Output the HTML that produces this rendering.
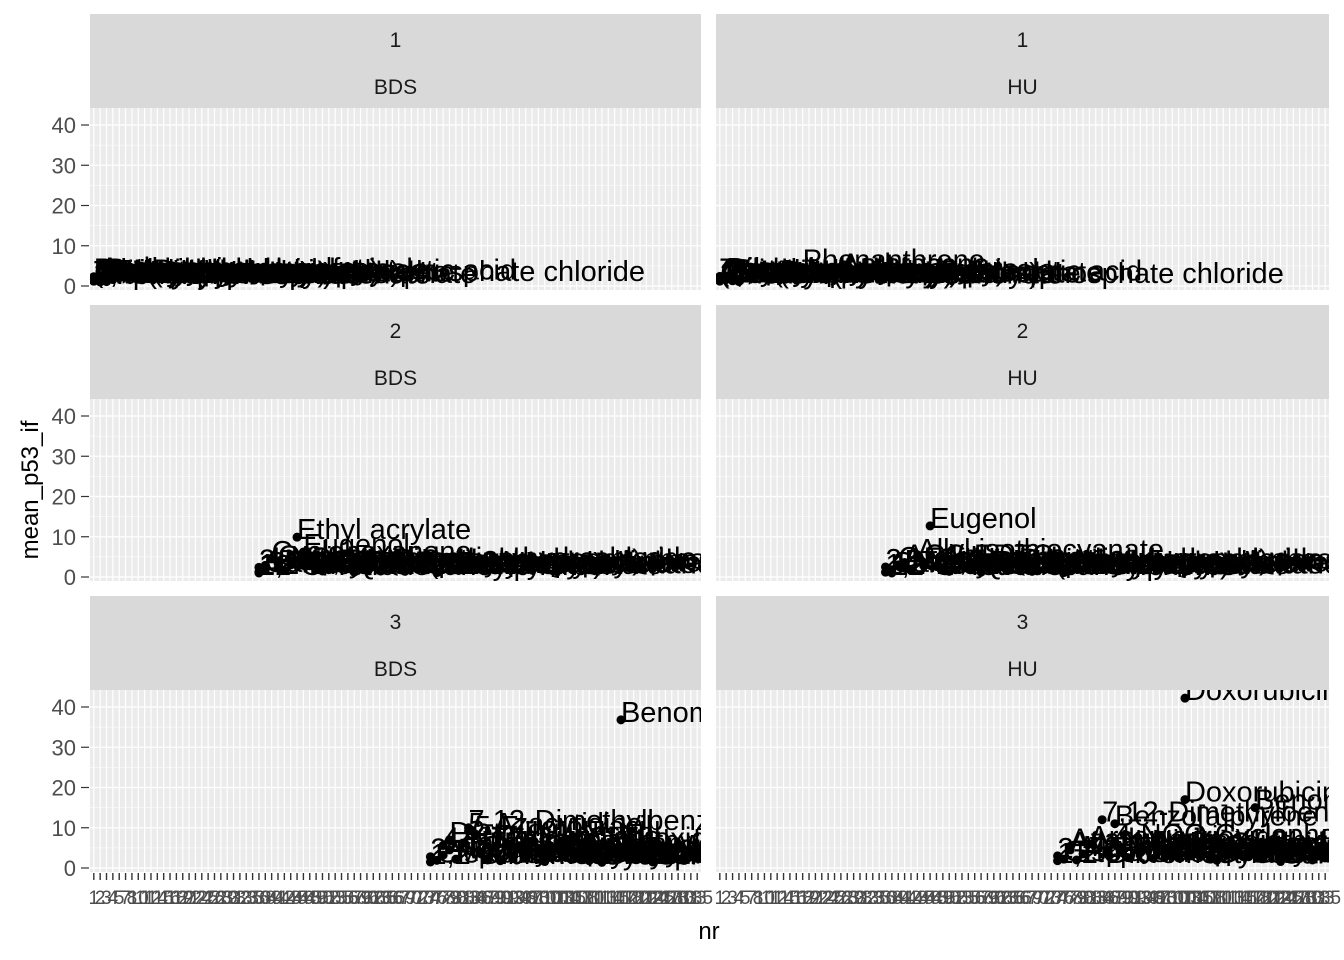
<!DOCTYPE html>
<html><head><meta charset="utf-8"><style>
html,body{margin:0;padding:0;background:#fff;}
svg{display:block;font-family:"Liberation Sans",Arial,sans-serif;}
</style></head><body>
<svg id="chart" width="1344" height="960" xmlns="http://www.w3.org/2000/svg"></svg>
<script>
const categories=[1,2,3,4,5,7,8,10,11,12,14,15,16,18,19,21,22,24,25,26,28,29,31,32,33,35,36,38,39,41,42,43,45,46,48,49,50,52,53,55,56,57,59,60,62,63,65,66,67,69,70,72,73,74,76,77,79,80,81,83,84,86,87,89,90,91,93,94,96,97,98,100,101,103,104,105,107,108,110,111,113,114,115,117,118,120,121,122,124,125,127,128,130,131,133,135];
const yTicks=[0,10,20,30,40];
const facetRows=["1","2","3"];
const facetCols=["BDS","HU"];

const p1bdsNr=[1,1,1,2,2,2,3,3,3,1,2,3,2,1,1,2,3,4,4,1];
const p1bdsVal=[1.5,2.0,1.2,1.8,2.2,1.4,1.6,2.5,1.1,2.3,1.0,1.9,2.6,1.7,2.1,1.3,2.4,1.6,2.0,1.2];
const p1bdsLab=["(4-Chlorophenyl)urea","Acetaldehyde oxime","2,4-Diaminotoluene","Benzyl alcohol acetate","Cadmium chloride","Diethyl phthalate","Phenanthrene","Hydroquinone sulfate","Methyl methanesulfonate","Pentachlorophenol","Triphenyl phosphate","Dibutyl phthalate","Anthracene","Tetrakis(hydroxymethyl)phosphate chloride","(2,4-Dichlorophenoxy)acetic acid","Tris(2-chloroethyl) phosphate","Butylated hydroxyanisole","Bis(2-ethylhexyl) phthalate","Tributyltin methacrylate","4,4'-Methylenedianiline"];

const p1huNr=[1,1,1,2,2,3,3,4,4,18,26,2,3,1,2,3,4,1];
const p1huVal=[1.4,2.0,1.2,1.8,2.3,1.5,2.1,1.1,1.7,4.6,3.6,2.5,1.3,1.9,1.6,2.2,1.4,2.4];
const p1huLab=["(4-Chlorophenyl)urea","Acetaldehyde oxime","2,4-Diaminotoluene","Benzyl alcohol acetate","Cadmium chloride","Diethyl phthalate","Triphenyl phosphate","Methyl methanesulfonate","Hydroquinone","Phenanthrene","Anthracene","Dibutyl phosphate","Tetrakis(hydroxymethyl)phosphate chloride","(2,4-Dichlorophenoxy)acetic acid","Tris(2-chloroethyl) phosphate","Butylated hydroxyanisole","Bis(2-ethylhexyl) phthalate","Tributyltin methacrylate"];

const p2bdsNr=[36,36,38,39,41,42,43,45,46,48,49,50,41,38,52,55,57,60,63,66,69,72,76,36];
const p2bdsVal=[1.3,2.4,1.8,4.5,2.2,1.6,3.0,9.9,6.2,2.8,2.0,1.5,3.4,2.9,1.8,2.4,1.2,2.0,1.6,2.6,1.4,1.9,1.3,1.0];
const p2bdsLab=["1,2-Dichlorobenzene","2-Naphthylamine","Caffeine","Cyclohexanone","Potassium bromate","Methyl carbamate","Kojic acid","Ethyl acrylate","Eugenol","Chlorpromazine hydrochloride","1,3-Dichloro-2-propanol","Sodium (2-ethylhexyl) sulfate","Coumarin","4-Nitrophenol","Chloramphenicol palmitate","Tris(2,3-dibromopropyl) phosphate","Quercetin dihydrate","Phenylbutazone sodium","Sulfisoxazole acetyl","Dimethyl hydrogen phosphite","Hexachlorocyclohexane","Benzyl butyl phthalate","Furfural diacetate","12-O-Tetradecanoylphorbol"];

const p2huNr=[36,36,38,39,41,42,43,45,46,48,49,50,41,52,55,57,60,63,66,69,72,76,38];
const p2huVal=[1.2,2.5,1.8,3.0,2.2,1.6,5.0,2.8,12.7,2.6,2.0,1.4,3.6,1.8,2.4,1.2,2.0,1.6,2.6,1.4,1.9,1.3,1.0];
const p2huLab=["1,2-Dichlorobenzene","2-Naphthylamine","Caffeine","Cyclohexanone","Potassium bromate","Methyl carbamate","Allyl isothiocyanate","Ethyl acrylate","Eugenol","Chlorpromazine hydrochloride","1,3-Dichloro-2-propanol","Sodium (2-ethylhexyl) sulfate (capitate)","ACC EDTC","Chloramphenicol palmitate","Tris(2,3-dibromopropyl) phosphate","Quercetin dihydrate","Phenylbutazone sodium","Sulfisoxazole acetyl","Dimethyl hydrogen phosphite","Hexachlorocyclohexane","Benzyl butyl phthalate","Furfural diacetate","12-O-Tetradecanoylphorbol"];

const p3bdsNr=[74,74,76,77,79,80,81,83,84,86,87,89,90,93,96,100,104,108,113,117,83,79,77,98,101,105,110,114,120,124,128,131,135];
const p3bdsVal=[1.5,2.8,1.9,3.2,4.5,2.2,6.0,10.0,8.5,3.5,2.0,5.0,1.8,3.0,2.4,1.6,2.9,2.1,1.4,36.8,9.2,7.0,5.6,3.8,2.6,4.4,1.8,3.2,2.2,1.5,2.7,1.9,2.4];
const p3bdsLab=["1,2-Dibromoethane","2-Acetylaminofluorene","Cisplatin","Aflatoxin B1","Etoposide","Mitomycin C","Arsenic trioxide","7,12-Dimethylbenz[a]anthracene","5-Fluorouracil","Colchicine","Vinblastine sulfate","N-Nitrosodiethylamine","Methotrexate","Hydroxyurea","Camptothecin","Actinomycin D","Taxol","Bleomycin sulfate","Cyclophosphamide","Benomyl","5-Azacytidine","Diethylstilbestrol","4-Nitroquinoline oxide","Chlorambucil","Melphalan","Busulfan","Cytarabine","Gemcitabine","Thiotepa","Carmustine","Lomustine","Procarbazine","Dacarbazine"];

const p3huNr=[74,74,76,77,79,80,81,84,86,87,89,90,93,96,100,103,103,104,108,113,118,117,87,77,98,101,105,110,114,120,124,128,131,135];
const p3huVal=[1.8,3.0,2.2,4.5,2.0,3.5,6.0,12.0,3.2,11.0,5.0,2.6,3.8,2.4,4.2,42.2,17.0,3.0,2.2,4.4,15.0,2.8,6.5,5.4,3.3,2.5,4.0,1.9,3.1,2.3,1.6,2.8,2.0,2.5];
const p3huLab=["1,2-Dibromoethane","2-Acetylaminofluorene","Cisplatin","Aflatoxin B1","Etoposide","Mitomycin C","Arsenic trioxide","7,12-Dimethylbenz[a]anthracene","5-Fluorouracil","Benzo[a]pyrene","N-Nitrosodiethylamine","Methotrexate","Hydroxyurea","Camptothecin","Actinomycin D","Doxorubicin","Doxorubicin","Taxol","Bleomycin sulfate","Cyclophosphamide","Benomyl","Vinblastine sulfate","4-NQO Cyclophosphamide","Azathioprine","Chlorambucil","Melphalan","Busulfan","Cytarabine","Gemcitabine","Thiotepa","Carmustine","Lomustine","Procarbazine","Dacarbazine"];

const NS="http://www.w3.org/2000/svg";
const svg=document.getElementById('chart');
function mk(tag,attrs,parent){const e=document.createElementNS(NS,tag);for(const k in attrs)e.setAttribute(k,attrs[k]);(parent||svg).appendChild(e);return e;}

const colX=[90,716], panelW=[611,613];
const rowTop=[108,399,690], panelH=182;
const nCat=categories.length;
function xScale(col,nr){const step=panelW[col]/(nCat+0.2);return colX[col]+(categories.indexOf(nr)+0.6)*step;}
function xIdx(col,i){const step=panelW[col]/(nCat+0.2);return colX[col]+(i+0.6)*step;}
function yScale(row,v){return rowTop[row]+178-v*4.025;}

const data=[[[p1bdsNr,p1bdsVal,p1bdsLab],[p1huNr,p1huVal,p1huLab]],[[p2bdsNr,p2bdsVal,p2bdsLab],[p2huNr,p2huVal,p2huLab]],[[p3bdsNr,p3bdsVal,p3bdsLab],[p3huNr,p3huVal,p3huLab]]];
const defs=mk('defs',{});

for(let r=0;r<3;r++){
  for(let c=0;c<2;c++){
    const x0=colX[c],w=panelW[c],top=rowTop[r];
    const strip=mk('g',{});
    
    
    mk('rect',{x:x0,y:top-94,width:w,height:94,fill:'#D9D9D9'},strip);
    const t1=mk('text',{x:x0+w/2,y:top-61,'font-size':21,fill:'#1A1A1A','text-anchor':'middle'},strip);t1.textContent=facetRows[r];
    const t2=mk('text',{x:x0+w/2,y:top-14,'font-size':21,fill:'#1A1A1A','text-anchor':'middle'},strip);t2.textContent=facetCols[c];

    const cp=mk('clipPath',{id:'cp'+r+c},defs);
    mk('rect',{x:x0,y:top,width:w,height:panelH},cp);
    const pg=mk('g',{'clip-path':'url(#cp'+r+c+')'});
    
    
    mk('rect',{x:x0,y:top,width:w,height:panelH,fill:'#EBEBEB'},pg);
    for(let v=5;v<=45;v+=10){mk('line',{x1:x0,x2:x0+w,y1:yScale(r,v),y2:yScale(r,v),stroke:'#fff','stroke-width':0.6},pg);}
    for(const v of yTicks){mk('line',{x1:x0,x2:x0+w,y1:yScale(r,v),y2:yScale(r,v),stroke:'#fff','stroke-width':1.2},pg);}
    for(let i=0;i<nCat;i++){const xx=xIdx(c,i);mk('line',{x1:xx,x2:xx,y1:top,y2:top+panelH,stroke:'#fff','stroke-width':1.2},pg);}
    const [nrs,vals,labs]=data[r][c];
    for(let i=0;i<nrs.length;i++){
      const px=xScale(c,nrs[i]),py=yScale(r,vals[i]);
      const pt=mk('circle',{cx:px,cy:py,r:4.5,fill:'#000'},pg);
      
      
      const lb=mk('text',{x:px,y:py-7,'font-size':29,fill:'#000','dominant-baseline':'central'},pg);
      lb.textContent=labs[i];
      
      
    }
    if(c===0){
      const ya=mk('g',{});
      
      
      for(const v of yTicks){const yy=yScale(r,v);
        mk('line',{x1:81,x2:89,y1:yy,y2:yy,stroke:'#333','stroke-width':1.2},ya);
        const tt=mk('text',{x:76,y:yy+8,'font-size':22,fill:'#4D4D4D','text-anchor':'end'},ya);tt.textContent=v;}
    }
    if(r===2){
      const xa=mk('g',{});
      
      
      for(let i=0;i<nCat;i++){const xx=xIdx(c,i);
        mk('line',{x1:xx,x2:xx,y1:873,y2:880,stroke:'#333','stroke-width':1.4},xa);
        const tt=mk('text',{x:xx,y:904,'font-size':19,fill:'#4D4D4D','text-anchor':'middle'},xa);tt.textContent=categories[i];}
    }
  }
}
const xt=mk('text',{x:709,y:939,'font-size':24,fill:'#000','text-anchor':'middle'});xt.textContent='nr';

const yt=mk('text',{x:38,y:490,'font-size':24,fill:'#000','text-anchor':'middle',transform:'rotate(-90 38 490)'});yt.textContent='mean_p53_if';

</script>
</body></html>
